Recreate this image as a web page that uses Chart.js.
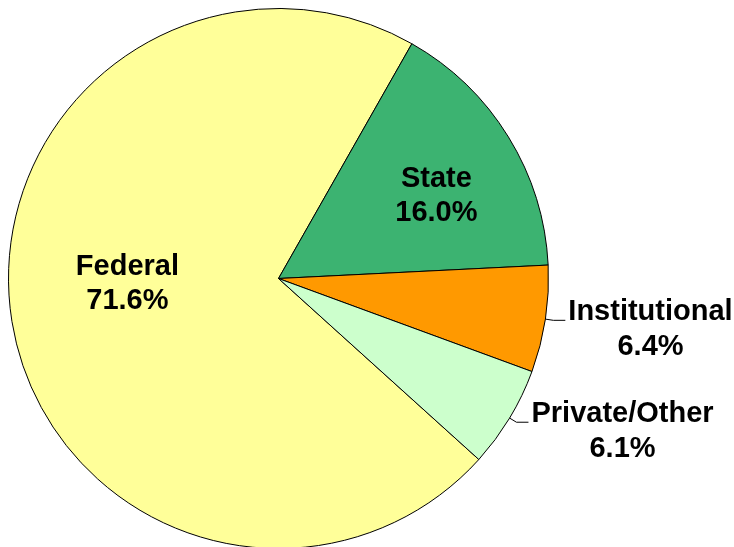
<!DOCTYPE html>
<html>
<head>
<meta charset="utf-8">
<script src="https://cdn.jsdelivr.net/npm/chart.js@4/dist/chart.umd.min.js"></script>
<style>
  html, body { margin: 0; padding: 0; background: #ffffff; overflow: hidden; }
  #wrap { width: 734px; height: 547px; overflow: hidden; }
  canvas { display: block; }
</style>
</head>
<body>
<div id="wrap"><canvas id="c" width="734" height="557"></canvas></div>
<script>
// ---- data ----
const categories = ["Federal", "State", "Institutional", "Private/Other"];
const shares = [71.6, 16.0, 6.4, 6.1];
const valueLabels = ["71.6%", "16.0%", "6.4%", "6.1%"];
const sliceColors = ["#FFFF99", "#3CB371", "#FF9900", "#CCFFCC"];

// label placement: inside labels (angle shift in degrees, radius fraction) or outside with leader
const labelPlacement = [
  { inside: true, angleShift: 7, rFrac: 0.56 },
  { inside: true, angleShift: 4, rFrac: 0.66 },
  { inside: false },
  { inside: false }
];

const FONT = 'bold 29px "Liberation Sans", Arial, sans-serif';
const LINE_GAP = 34;

const labelPlugin = {
  id: 'sliceLabels',
  afterDatasetsDraw(chart) {
    const ctx = chart.ctx;
    const meta = chart.getDatasetMeta(0);
    ctx.save();
    ctx.font = FONT;
    ctx.fillStyle = '#000000';
    meta.data.forEach((arc, i) => {
      const p = arc.getProps(['x', 'y', 'startAngle', 'endAngle', 'outerRadius'], true);
      const mid = (p.startAngle + p.endAngle) / 2;
      const lines = [categories[i], valueLabels[i]];
      const place = labelPlacement[i];
      if (place.inside) {
        const a = mid + place.angleShift * Math.PI / 180;
        const r = p.outerRadius * place.rFrac;
        const cx = p.x + Math.cos(a) * r;
        const cy = p.y + Math.sin(a) * r;
        ctx.textAlign = 'center';
        ctx.textBaseline = 'middle';
        ctx.fillText(lines[0], cx, cy - LINE_GAP / 2);
        ctx.fillText(lines[1], cx, cy + LINE_GAP / 2);
      } else {
        const ax = p.x + Math.cos(mid) * p.outerRadius;
        const ay = p.y + Math.sin(mid) * p.outerRadius;
        const bx = p.x + Math.cos(mid) * (p.outerRadius + 8);
        const by = p.y + Math.sin(mid) * (p.outerRadius + 8);
        const cxl = bx + 12;
        ctx.strokeStyle = '#000000';
        ctx.lineWidth = 1;
        ctx.beginPath();
        ctx.moveTo(ax, ay);
        ctx.lineTo(bx, by);
        ctx.lineTo(cxl, by);
        ctx.stroke();
        const w = Math.max(ctx.measureText(lines[0]).width, ctx.measureText(lines[1]).width);
        const tx = cxl + 3 + w / 2;
        ctx.textAlign = 'center';
        ctx.textBaseline = 'alphabetic';
        ctx.fillText(lines[0], tx, by);
        ctx.fillText(lines[1], tx, by + LINE_GAP + 1);
      }
    });
    ctx.restore();
  }
};

new Chart(document.getElementById('c'), {
  type: 'pie',
  data: {
    labels: categories,
    datasets: [{
      data: shares,
      backgroundColor: sliceColors,
      borderColor: '#000000',
      borderWidth: 1,
      borderJoinStyle: 'miter'
    }]
  },
  options: {
    responsive: false,
    animation: false,
    rotation: 132.1,
    layout: { padding: { left: 8, top: 8, right: 185, bottom: 8 } },
    plugins: {
      legend: { display: false },
      tooltip: { enabled: false }
    }
  },
  plugins: [labelPlugin]
});
</script>
</body>
</html>
